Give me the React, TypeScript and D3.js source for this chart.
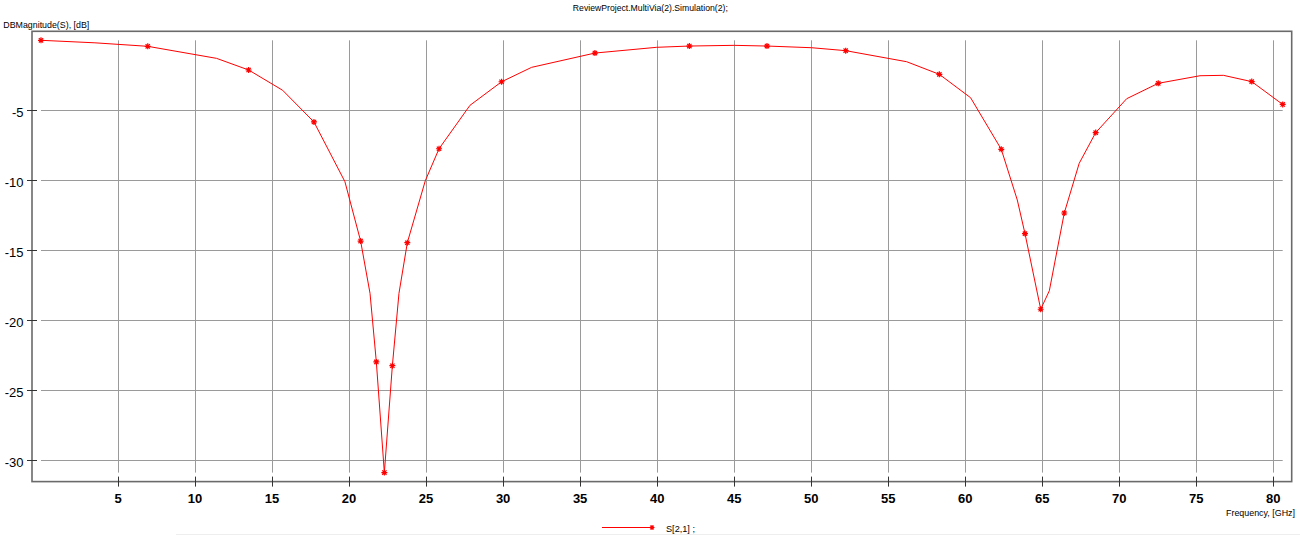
import React from "react";
import * as d3 from "d3";

// Frequency samples (GHz) and S[2,1] magnitude (dB)
const freqGHz = [
  0.0, 3.5, 6.93, 11.4, 13.48, 15.69, 17.72, 19.73, 20.75, 21.36, 21.77, 22.29,
  22.81, 23.24, 23.78, 24.95, 25.84, 27.85, 29.9, 31.85, 35.96, 39.97, 42.09,
  45.0, 47.13, 50.03, 52.24, 56.2, 58.32, 60.35, 62.34, 63.38, 63.88, 64.9,
  65.46, 66.43, 67.4, 68.47, 70.48, 72.53, 75.24, 76.76, 78.6, 80.61,
];
const s21dB = [
  -0.02, -0.2, -0.45, -1.31, -2.14, -3.59, -5.85, -10.11, -14.35, -18.08,
  -22.98, -30.88, -23.25, -18.08, -14.47, -10.04, -7.76, -4.66, -2.98, -1.95,
  -0.93, -0.52, -0.43, -0.38, -0.43, -0.55, -0.76, -1.55, -2.45, -4.12, -7.8,
  -11.42, -13.82, -19.22, -17.9, -12.35, -8.8, -6.61, -4.19, -3.09, -2.55,
  -2.52, -2.97, -4.6,
];
// indices of samples that carry a '*' marker
const markerIdx = [0, 2, 4, 6, 8, 10, 11, 12, 14, 16, 18, 20, 22, 24, 26, 28, 30, 32, 33, 35, 37, 39, 42, 43];

const xTicks = [5, 10, 15, 20, 25, 30, 35, 40, 45, 50, 55, 60, 65, 70, 75, 80];
const yTicks = [-5, -10, -15, -20, -25, -30];

const titleText = "ReviewProject.MultiVia(2).Simulation(2);";
const yTitle = "DBMagnitude(S), [dB]";
const xTitle = "Frequency, [GHz]";
const seriesName = "S[2,1] ;";

const W = 1300;
const H = 535;
const PAD = 9;

function star(cx: number, cy: number, r: number) {
  const d = r * 0.72;
  return `M${cx - r},${cy}L${cx + r},${cy}M${cx},${cy - r}L${cx},${cy + r}M${cx - d},${cy - d}L${cx + d},${cy + d}M${cx - d},${cy + d}L${cx + d},${cy - d}`;
}

export default function App() {
  const xMin = d3.min(freqGHz)!;
  const xMax = d3.max(freqGHz)!;
  const yMin = d3.min(s21dB)!;
  const yMax = d3.max(s21dB)!;
  const x = d3.scaleLinear().domain([xMin, xMax]).range([41, 1282.7]);
  const y = d3.scaleLinear().domain([yMax, yMin]).range([40.3, 472.6]);

  const left = x(xMin) - PAD;
  const right = x(xMax) + PAD;
  const top = y(yMax) - PAD;
  const bottom = y(yMin) + PAD;

  const pts = freqGHz.map((f, i) => [f, s21dB[i]] as [number, number]);
  const line = d3
    .line<[number, number]>()
    .x((d) => x(d[0]))
    .y((d) => y(d[1]));

  const font = "'Liberation Sans', Arial, sans-serif";
  const gridColor = "#9a9a9a";

  return (
    <svg
      width={W}
      height={H}
      style={{ position: "absolute", left: 0, top: 0, background: "#fff" }}
    >
      <rect x={0} y={0} width={W} height={H} fill="#fff" />
      {/* title */}
      <text
        x={650.3}
        y={11}
        fontFamily={font}
        fontSize={9.6}
        textAnchor="middle"
        textLength={155}
        lengthAdjust="spacingAndGlyphs"
        fill="#000"
      >
        {titleText}
      </text>
      <text
        x={3.3}
        y={27.5}
        fontFamily={font}
        fontSize={9.6}
        textLength={86}
        lengthAdjust="spacingAndGlyphs"
        fill="#000"
      >
        {yTitle}
      </text>

      {/* grid */}
      {xTicks.map((t) => (
        <line
          key={"gx" + t}
          x1={Math.round(x(t)) + 0.5}
          x2={Math.round(x(t)) + 0.5}
          y1={y(yMax)}
          y2={y(yMin)}
          stroke={gridColor}
          strokeWidth={1}
        />
      ))}
      {yTicks.map((t) => (
        <line
          key={"gy" + t}
          x1={x(xMin)}
          x2={x(xMax)}
          y1={Math.round(y(t)) + 0.5}
          y2={Math.round(y(t)) + 0.5}
          stroke={gridColor}
          strokeWidth={1}
        />
      ))}

      {/* frame */}
      <rect
        x={left}
        y={top}
        width={right - left}
        height={bottom - top}
        fill="none"
        stroke="#6a6a6a"
        strokeWidth={1.6}
      />

      {/* ticks */}
      {xTicks.map((t) => (
        <g key={"tx" + t}>
          <line
            x1={Math.round(x(t)) + 0.5}
            x2={Math.round(x(t)) + 0.5}
            y1={bottom - 5}
            y2={bottom + 5}
            stroke="#333"
          />
          <text
            x={x(t)}
            y={503}
            textAnchor="middle"
            fontFamily={font}
            fontWeight="bold"
            fontSize={13}
            fill="#000"
          >
            {t}
          </text>
        </g>
      ))}
      {yTicks.map((t) => (
        <g key={"ty" + t}>
          <line
            x1={left - 5}
            x2={left + 5}
            y1={Math.round(y(t)) + 0.5}
            y2={Math.round(y(t)) + 0.5}
            stroke="#333"
          />
          <text
            x={23.5}
            y={y(t) + 6.5}
            textAnchor="end"
            fontFamily={font}
            fontSize={13}
            fill="#000"
          >
            {t}
          </text>
        </g>
      ))}

      {/* series */}
      <path d={line(pts)!} fill="none" stroke="#ff0000" strokeWidth={1} />
      {markerIdx.map((i) => (
        <path
          key={"m" + i}
          d={star(x(freqGHz[i]), y(s21dB[i]), 3)}
          stroke="#ff0000"
          strokeWidth={1.2}
          fill="none"
        />
      ))}

      <text
        x={1295}
        y={515.5}
        textAnchor="end"
        fontFamily={font}
        fontSize={9.6}
        textLength={69}
        lengthAdjust="spacingAndGlyphs"
        fill="#000"
      >
        {xTitle}
      </text>

      {/* legend */}
      <line x1={602} x2={652} y1={527.5} y2={527.5} stroke="#ff0000" strokeWidth={1} />
      <path d={star(652, 527.5, 2.5)} stroke="#ff0000" strokeWidth={1.2} fill="none" />
      <text
        x={666}
        y={531.5}
        fontFamily={font}
        fontSize={9.6}
        textLength={29}
        lengthAdjust="spacingAndGlyphs"
        fill="#000"
      >
        {seriesName}
      </text>
      <line x1={176} x2={W} y1={534.5} y2={534.5} stroke="#eeeeee" strokeWidth={1} />
    </svg>
  );
}
